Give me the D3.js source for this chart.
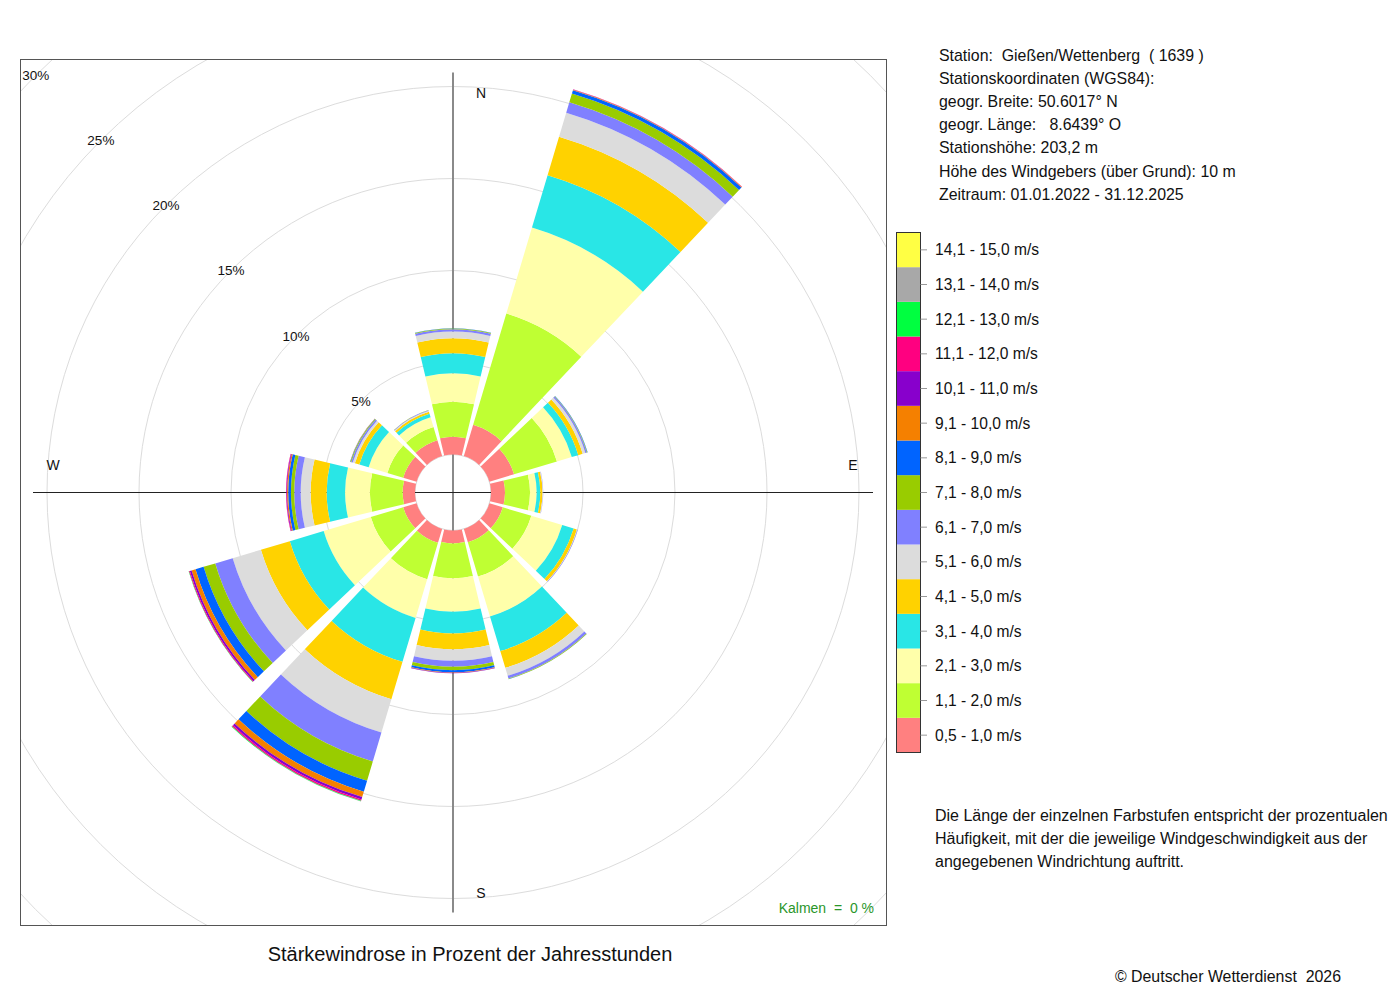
<!DOCTYPE html>
<html>
<head>
<meta charset="utf-8">
<script src="https://cdn.jsdelivr.net/npm/d3@7"></script>
<style>
  body { margin: 0; background: #fff; }
  text { font-family: "Liberation Sans", Arial, sans-serif; fill: #111; }
</style>
</head>
<body>
<svg id="chart" width="1400" height="1000"></svg>
<script>
// speed classes, bottom (calm side) to top
const speedLabels = [
  '0,5 - 1,0 m/s', '1,1 - 2,0 m/s', '2,1 - 3,0 m/s', '3,1 - 4,0 m/s',
  '4,1 - 5,0 m/s', '5,1 - 6,0 m/s', '6,1 - 7,0 m/s', '7,1 - 8,0 m/s',
  '8,1 - 9,0 m/s', '9,1 - 10,0 m/s', '10,1 - 11,0 m/s', '11,1 - 12,0 m/s',
  '12,1 - 13,0 m/s', '13,1 - 14,0 m/s', '14,1 - 15,0 m/s',
];
const speedColors = [
  '#ff8080', '#bfff33', '#ffffaa', '#29e6e6', '#ffd200', '#dcdcdc', '#8080ff',
  '#99cc00', '#0064ff', '#f58000', '#8800cc', '#ff0080', '#00ff40', '#a8a8a8', '#ffff44',
];

// direction of each sector (degrees from north)
const directions = [0, 30, 60, 90, 120, 150, 180, 210, 240, 270, 300, 330];

// percent of hours per speed class, one array per sector
const sectorN   = [0.97, 1.90, 1.54, 1.09, 0.81, 0.37, 0.12, 0.04, 0.02];
const sectorNNE = [1.77, 6.31, 4.88, 2.97, 2.18, 1.36, 0.59, 0.50, 0.19, 0.03, 0.01, 0.01];
const sectorENE = [1.40, 2.43, 0.84, 0.37, 0.25, 0.15, 0.08, 0.03, 0.02];
const sectorE   = [0.76, 1.36, 0.36, 0.20, 0.12, 0.03, 0.01];
const sectorESE = [0.76, 1.62, 1.75, 0.65, 0.18, 0.03, 0.02];
const sectorSSE = [0.76, 1.94, 2.27, 1.96, 0.95, 0.45, 0.15, 0.03, 0.01];
const sectorS   = [0.70, 1.90, 1.81, 1.18, 0.87, 0.62, 0.32, 0.19, 0.11, 0.03, 0.02];
const sectorSSW = [0.79, 2.06, 2.20, 2.49, 2.12, 1.89, 1.64, 1.09, 0.62, 0.31, 0.13, 0.08, 0.03, 0.01];
const sectorWSW = [0.76, 1.84, 2.67, 1.92, 1.64, 1.60, 0.99, 0.66, 0.46, 0.22, 0.10, 0.05, 0.02];
const sectorW   = [0.67, 1.78, 1.35, 1.00, 0.87, 0.54, 0.35, 0.18, 0.15, 0.06, 0.04, 0.02];
const sectorWNW = [0.76, 0.90, 1.06, 0.53, 0.25, 0.12, 0.09, 0.04, 0.02, 0.01];
const sectorNNW = [0.90, 0.75, 0.55, 0.20, 0.12, 0.05, 0.03, 0.01];

const ringTicks = [5, 10, 15, 20, 25, 30];
const compassLabels = [
  { name: 'N', angle: 0 }, { name: 'E', angle: 90 },
  { name: 'S', angle: 180 }, { name: 'W', angle: 270 },
];

const stationLines = [
  'Station:  Gießen/Wettenberg  ( 1639 )',
  'Stationskoordinaten (WGS84):',
  'geogr. Breite: 50.6017° N',
  'geogr. Länge:   8.6439° O',
  'Stationshöhe: 203,2 m',
  'Höhe des Windgebers (über Grund): 10 m',
  'Zeitraum: 01.01.2022 - 31.12.2025',
];
const noteLines = [
  'Die Länge der einzelnen Farbstufen entspricht der prozentualen',
  'Häufigkeit, mit der die jeweilige Windgeschwindigkeit aus der',
  'angegebenen Windrichtung auftritt.',
];

const CX = 453;
const CY = 492.5;
const HOLE = 38;
const HALF_WIDTH = 13.4; // degrees each side of the sector axis
const rad = deg => deg * Math.PI / 180;

const svg = d3.select('#chart');

const rScale = d3.scaleLinear().domain([0, 30]).range([HOLE, 590]);

// ---- frame and clip ----
svg.append('clipPath').attr('id', 'frame-clip')
  .append('rect').attr('x', 20).attr('y', 59).attr('width', 866).attr('height', 866);

const plot = svg.append('g').attr('clip-path', 'url(#frame-clip)');
const g = plot.append('g').attr('transform', `translate(${CX},${CY})`);

// rings
g.selectAll('circle.ring')
  .data(ringTicks)
  .enter()
  .append('circle')
  .attr('class', 'ring')
  .attr('r', d => rScale(d))
  .attr('fill', 'none')
  .attr('stroke', '#dcdcdc')
  .attr('stroke-width', 1);

g.append('circle')
  .attr('r', HOLE)
  .attr('fill', 'none')
  .attr('stroke', '#d8d8d8');

// axis cross
g.append('line')
  .attr('x1', 0).attr('x2', 0).attr('y1', -420).attr('y2', 420)
  .attr('stroke', '#8a8a8a').attr('stroke-width', 2);
g.append('line')
  .attr('x1', -420).attr('x2', 420).attr('y1', 0).attr('y2', 0)
  .attr('stroke', '#222').attr('stroke-width', 1);

// ---- sectors ----
const rows = [sectorN, sectorNNE, sectorENE, sectorE, sectorESE, sectorSSE,
  sectorS, sectorSSW, sectorWSW, sectorW, sectorWNW, sectorNNW]
  .map((values, i) => ({ dir: directions[i], values }));

const stack = d3.stack()
  .keys(d3.range(speedLabels.length))
  .value((row, k) => row.values[k] || 0);
const layers = stack(rows);

const arc = d3.arc()
  .innerRadius(d => rScale(d[0]))
  .outerRadius(d => rScale(d[1]))
  .startAngle(d => rad(d.data.dir - HALF_WIDTH))
  .endAngle(d => rad(d.data.dir + HALF_WIDTH));

g.selectAll('g.layer')
  .data(layers)
  .enter()
  .append('g')
  .attr('class', 'layer')
  .attr('fill', layer => speedColors[layer.key])
  .selectAll('path')
  .data(layer => layer.filter(d => d[1] > d[0]))
  .enter()
  .append('path')
  .attr('d', arc);

// ring labels along the north-west diagonal
g.selectAll('text.ring-label')
  .data(ringTicks)
  .enter()
  .append('text')
  .attr('class', 'ring-label')
  .attr('x', d => -rScale(d) * Math.SQRT1_2)
  .attr('y', d => -rScale(d) * Math.SQRT1_2 + 5)
  .attr('text-anchor', 'middle')
  .style('font-size', '13.5px')
  .text(d => `${d}%`);

// compass letters
g.selectAll('text.compass')
  .data(compassLabels)
  .enter()
  .append('text')
  .attr('class', 'compass')
  .attr('x', d => 400 * Math.sin(rad(d.angle)) + (d.angle % 180 === 0 ? 28 : 0))
  .attr('y', d => -400 * Math.cos(rad(d.angle)) - (d.angle % 180 === 0 ? 0 : 28) + 5)
  .attr('text-anchor', 'middle')
  .style('font-size', '14px')
  .text(d => d.name);

svg.append('rect')
  .attr('x', 20.5).attr('y', 59.5).attr('width', 866).attr('height', 866)
  .attr('fill', 'none').attr('stroke', '#555').attr('stroke-width', 1);

svg.append('text')
  .attr('x', 874).attr('y', 913)
  .attr('text-anchor', 'end')
  .style('font-size', '14px')
  .style('fill', '#2a962a')
  .attr('xml:space', 'preserve')
  .text('Kalmen  =  0 %');

// ---- legend ----
const legendY = d3.scaleBand()
  .domain(d3.range(speedLabels.length).reverse())
  .range([232.5, 752.5]);

const legend = svg.append('g');
legend.selectAll('rect.swatch')
  .data(d3.range(speedLabels.length))
  .enter()
  .append('rect')
  .attr('class', 'swatch')
  .attr('x', 896.5).attr('width', 24)
  .attr('y', k => legendY(k)).attr('height', legendY.bandwidth())
  .attr('fill', k => speedColors[k]);
legend.append('rect')
  .attr('x', 896.5).attr('y', 232.5).attr('width', 24).attr('height', 520)
  .attr('fill', 'none').attr('stroke', '#333');
legend.selectAll('line.tick')
  .data(d3.range(speedLabels.length))
  .enter()
  .append('line')
  .attr('class', 'tick')
  .attr('x1', 920.5).attr('x2', 927)
  .attr('y1', k => legendY(k) + legendY.bandwidth() / 2)
  .attr('y2', k => legendY(k) + legendY.bandwidth() / 2)
  .attr('stroke', '#999');
legend.selectAll('text.label')
  .data(d3.range(speedLabels.length))
  .enter()
  .append('text')
  .attr('class', 'label')
  .attr('x', 935)
  .attr('y', k => legendY(k) + legendY.bandwidth() / 2 + 5.5)
  .style('font-size', '15.6px')
  .text(k => speedLabels[k]);

// ---- texts ----
svg.append('g').selectAll('text')
  .data(stationLines)
  .enter()
  .append('text')
  .attr('x', 939)
  .attr('y', (d, i) => 60.5 + i * 23.2)
  .attr('xml:space', 'preserve')
  .style('font-size', '15.9px')
  .text(d => d);

svg.append('g').selectAll('text')
  .data(noteLines)
  .enter()
  .append('text')
  .attr('x', 935)
  .attr('y', (d, i) => 820.5 + i * 23)
  .style('font-size', '16px')
  .text(d => d);

svg.append('text')
  .attr('x', 470).attr('y', 961)
  .attr('text-anchor', 'middle')
  .style('font-size', '20px')
  .text('Stärkewindrose in Prozent der Jahresstunden');

svg.append('text')
  .attr('x', 1341).attr('y', 981.5)
  .attr('text-anchor', 'end')
  .attr('xml:space', 'preserve')
  .style('font-size', '15.9px')
  .text('© Deutscher Wetterdienst  2026');
</script>
</body>
</html>
